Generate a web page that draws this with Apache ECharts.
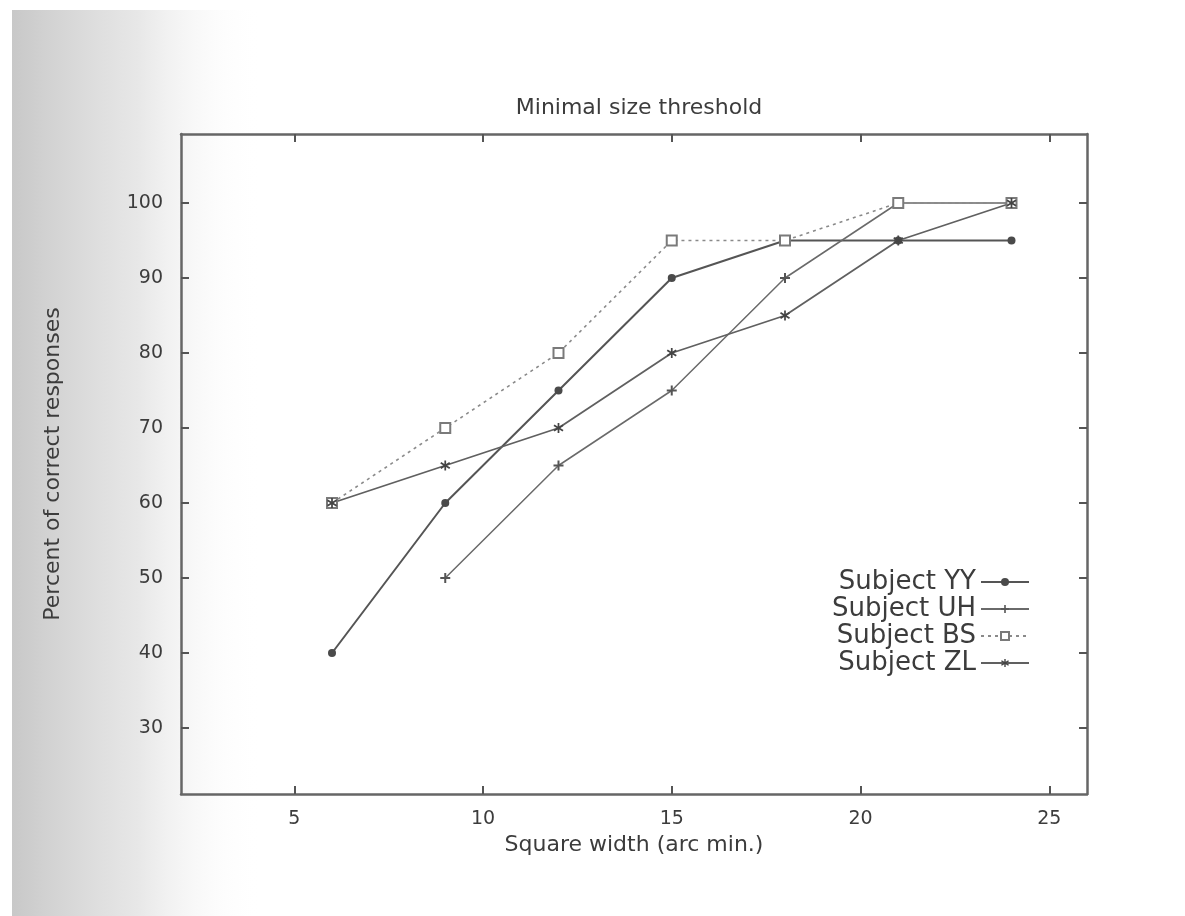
<!DOCTYPE html>
<html lang="en">
<head>
    <meta charset="UTF-8">
    <title>Minimal size threshold</title>
    <script src="https://cdn.jsdelivr.net/npm/echarts@6/dist/echarts.min.js"></script>
    <style>
        html, body { margin: 0; padding: 0; background: #fff; }
        #main { width: 1185px; height: 916px; }
    </style>
</head>
<body>
<div id="main"></div>
<script>
    // 数据: 横轴为方块宽度, 四个被试的正确率
    const widths = [6, 9, 12, 15, 18, 21, 24];
    const subjectYY = [40, 60, 75, 90, 95, 95, 95];
    const subjectUH = [null, 50, 65, 75, 90, 100, 100];
    const subjectBS = [60, 70, 80, 95, 95, 100, 100];
    const subjectZL = [60, 65, 70, 80, 85, 95, 100];
    const xTicks = [5, 10, 15, 20, 25];
    const yTicks = [30, 40, 50, 60, 70, 80, 90, 100];

    const font = 'DejaVu Sans';
    const ink = '#3c3c3c';
    const frame = '#666';

    function pairs(vals) {
        return widths.map((w, i) => [w, vals[i]]).filter(p => p[1] !== null);
    }

    const plusPath = 'path://M4,0H6V4H10V6H6V10H4V6H0V4H4Z';
    const starPath = 'path://M4.2,0H5.8V3.4L8.7,1.5L9.6,2.9L6.6,5L9.6,7.1L8.7,8.5L5.8,6.6V10H4.2V6.6L1.3,8.5L0.4,7.1L3.4,5L0.4,2.9L1.3,1.5L4.2,3.4Z';

    function xAxisDef(pos, showLabel) {
        return {
            type: 'value', position: pos, min: 2, max: 26,
            axisLine: { show: true, onZero: false, lineStyle: { color: frame, width: 2.5 } },
            axisTick: { show: true, inside: true, length: 8, customValues: xTicks, lineStyle: { color: '#555', width: 2 } },
            axisLabel: { show: showLabel, customValues: xTicks, margin: 16, fontFamily: font, fontSize: 19, color: ink },
            splitLine: { show: false }
        };
    }
    function yAxisDef(pos, showLabel) {
        return {
            type: 'value', position: pos, min: 21.2, max: 109.2,
            axisLine: { show: true, onZero: false, lineStyle: { color: frame, width: 2.5 } },
            axisTick: { show: true, inside: true, length: 8, customValues: yTicks, lineStyle: { color: '#555', width: 2 } },
            axisLabel: { show: showLabel, customValues: yTicks, margin: 18, fontFamily: font, fontSize: 19, color: ink },
            splitLine: { show: false }
        };
    }

    const xBottom = xAxisDef('bottom', true);
    xBottom.name = 'Square width (arc min.)';
    xBottom.nameLocation = 'middle';
    xBottom.nameGap = 40;
    xBottom.nameTextStyle = { fontFamily: font, fontSize: 22, color: ink };

    const yLeft = yAxisDef('left', true);
    yLeft.name = 'Percent of correct responses';
    yLeft.nameLocation = 'middle';
    yLeft.nameGap = 117;
    yLeft.nameTextStyle = { fontFamily: font, fontSize: 22, color: ink };

    const myChart = echarts.init(document.getElementById('main'));
    const option = {
        backgroundColor: '#fff',
        animation: false,
        // 扫描件左侧的灰色阴影
        graphic: [{
            type: 'rect', z: -10, silent: true,
            shape: { x: 12, y: 10, width: 250, height: 906 },
            style: {
                fill: new echarts.graphic.LinearGradient(0, 0, 1, 0, [
                    { offset: 0, color: 'rgba(200,200,200,1)' },
                    { offset: 0.5, color: 'rgba(225,225,225,0.8)' },
                    { offset: 1, color: 'rgba(255,255,255,0)' }
                ])
            }
        }],
        title: {
            text: 'Minimal size threshold',
            left: 634, top: 92, textAlign: 'center',
            textStyle: { fontFamily: font, fontSize: 22, fontWeight: 'normal', color: ink }
        },
        grid: { left: 181, right: 98, top: 134, bottom: 122 },
        xAxis: [xBottom, xAxisDef('top', false)],
        yAxis: [yLeft, yAxisDef('right', false)],
        legend: {
            orient: 'vertical', align: 'right',
            right: 150, top: 564,
            itemWidth: 48, itemHeight: 10, itemGap: 1,
            textStyle: { fontFamily: font, fontSize: 26, color: ink, lineHeight: 26 },
            data: ['Subject YY', 'Subject UH', 'Subject BS', 'Subject ZL']
        },
        series: [
            {
                name: 'Subject YY', type: 'line', data: pairs(subjectYY),
                symbol: 'circle', symbolSize: 8,
                lineStyle: { color: '#555', width: 2 },
                itemStyle: { color: '#4a4a4a' }
            },
            {
                name: 'Subject UH', type: 'line', data: pairs(subjectUH),
                symbol: plusPath, symbolSize: 10,
                lineStyle: { color: '#6a6a6a', width: 1.5 },
                itemStyle: { color: '#555' }
            },
            {
                name: 'Subject BS', type: 'line', data: pairs(subjectBS),
                symbol: 'emptyRect', symbolSize: 10,
                lineStyle: { color: '#8a8a8a', width: 1.6, type: [3, 4] },
                itemStyle: { color: '#7a7a7a', borderWidth: 1.8 }
            },
            {
                name: 'Subject ZL', type: 'line', data: pairs(subjectZL),
                symbol: starPath, symbolSize: 10,
                lineStyle: { color: '#606060', width: 1.8 },
                itemStyle: { color: '#444' }
            }
        ]
    };
    myChart.setOption(option);
</script>
</body>
</html>
